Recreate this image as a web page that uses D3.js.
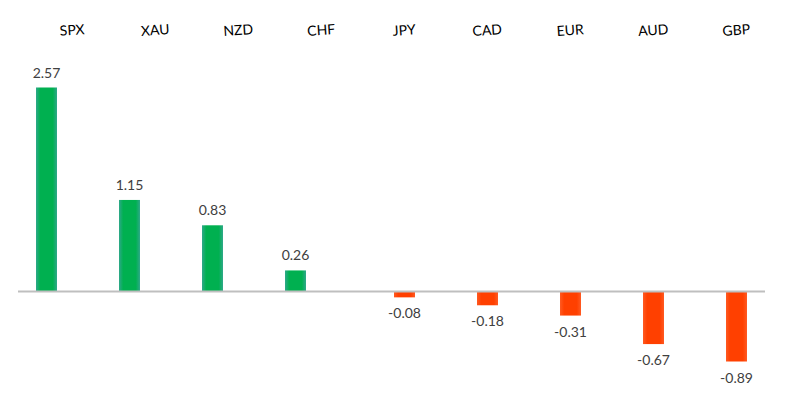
<!DOCTYPE html>
<html><head><meta charset="utf-8">
<script src="https://cdn.jsdelivr.net/npm/d3@7"></script>
<style>html,body{margin:0;padding:0;background:#fff;}svg{display:block;}</style>
</head><body>
<script>
const categories = ["SPX","XAU","NZD","CHF","JPY","CAD","EUR","AUD","GBP"];
const values = [2.57, 1.15, 0.83, 0.26, -0.08, -0.18, -0.31, -0.67, -0.89];
const seriesNames = ["up","down"];

const W = 785, H = 401;
const svg = d3.select("body").append("svg").attr("width", W).attr("height", H);
const defs = svg.append("defs");
function grad(id, edge, center){
  const g = defs.append("linearGradient").attr("id", id).attr("x1","0").attr("x2","1").attr("y1","0").attr("y2","0");
  g.append("stop").attr("offset","0%").attr("stop-color",edge);
  g.append("stop").attr("offset","20%").attr("stop-color",center);
  g.append("stop").attr("offset","80%").attr("stop-color",center);
  g.append("stop").attr("offset","100%").attr("stop-color",edge);
}
grad("gUp", "#2fa88a", "#00b050");
grad("gDown", "#ff5a22", "#ff4000");

const x = d3.scaleBand().domain(categories).range([18, 765]).paddingInner(0).paddingOuter(0);
const xs = d3.scaleBand().domain(seriesNames).range([0, x.bandwidth()]).paddingInner(5/26).paddingOuter(18/26);
const y = d3.scaleLinear().domain([-0.89, 2.57]).range([361.5, 87.5]);

const data = categories.map((c,i)=>({cat:c, v:values[i], s: values[i] >= 0 ? "up" : "down"}));
const fmt = v => v.toFixed(2);

svg.selectAll("rect.bar").data(data).enter().append("rect")
  .attr("class","bar")
  .attr("x", d => x(d.cat) + xs(d.s))
  .attr("width", xs.bandwidth())
  .attr("y", d => Math.min(y(d.v), y(0)))
  .attr("height", d => Math.abs(y(d.v) - y(0)))
  .attr("fill", d => d.s === "up" ? "url(#gUp)" : "url(#gDown)");

svg.append("line").attr("x1", x.range()[0]).attr("x2", x.range()[1])
  .attr("y1", y(0)+0.5).attr("y2", y(0)+0.5)
  .attr("stroke", "#bfbfbf").attr("stroke-width", 2);

svg.selectAll("text.val").data(data).enter().append("text")
  .attr("class","val")
  .attr("x", d => x(d.cat) + xs(d.s) + xs.bandwidth()/2)
  .attr("y", d => d.v >= 0 ? y(d.v) - 10 : y(d.v) + 21)
  .attr("text-anchor","middle")
  .attr("font-family","Lato, 'Open Sans', sans-serif")
  .attr("font-size", 14)
  .attr("fill","#404040")
  .text(d => fmt(d.v));

svg.selectAll("text.cat").data(categories).enter().append("text")
  .attr("class","cat")
  .attr("transform", c => `translate(${x(c) + x.bandwidth()/2 + 13},35) rotate(-4)`)
  .attr("text-anchor","middle")
  .attr("font-family","Lato, 'Open Sans', sans-serif")
  .attr("font-size", 14)
  .attr("fill","#000")
  .text(c => c);
</script>
</body></html>
